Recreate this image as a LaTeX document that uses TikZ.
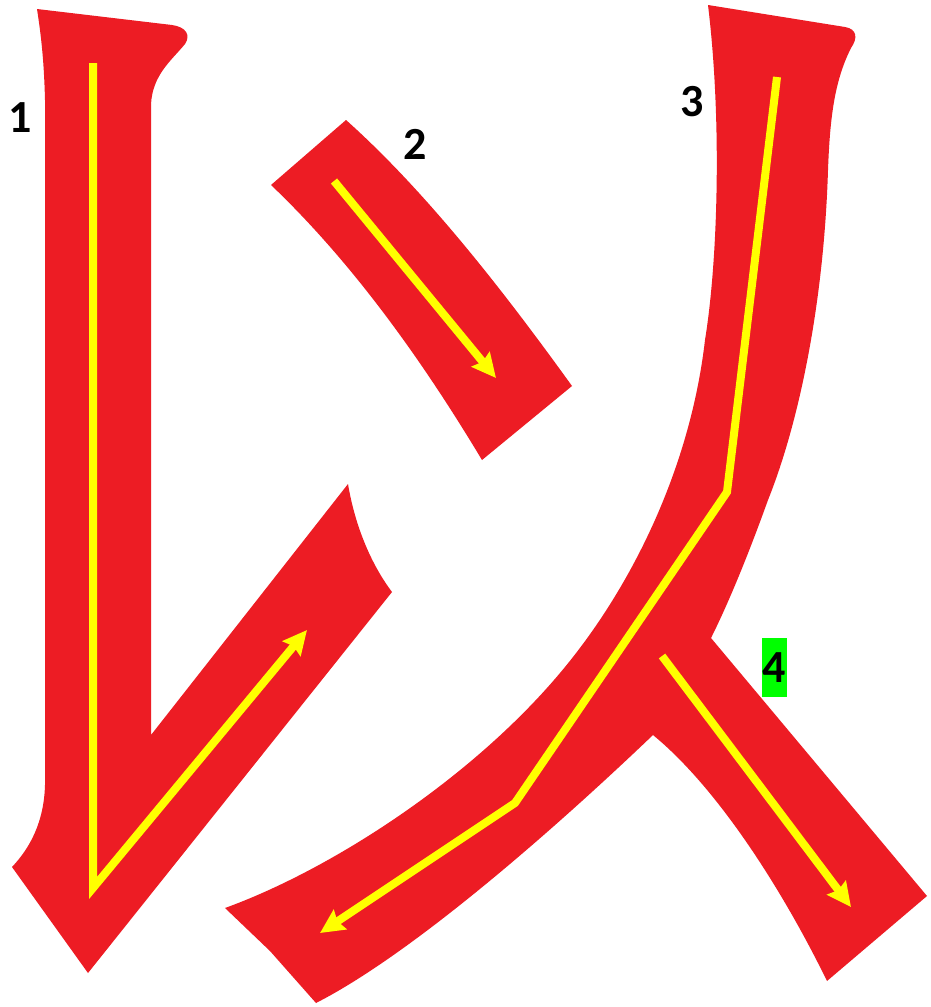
\documentclass[tikz,border=0pt]{standalone}
\usepackage{fontspec}
\setmainfont{Carlito}
\usepackage{tikz}
\usetikzlibrary{calc}
\usetikzlibrary{arrows.meta}
\usetikzlibrary{positioning}
\definecolor{strokered}{HTML}{ED1C24}
\definecolor{guideyellow}{HTML}{FFFF00}
\definecolor{markgreen}{HTML}{00FF00}
\begin{document}
\begin{tikzpicture}[x=1pt,y=-1pt,>={Stealth[length=24pt,width=23pt,inset=3pt]},
	  stroke shape/.style={fill=strokered,draw=none},
	  guide line/.style={->,draw=guideyellow,line width=8pt},
	  order label/.style={font=\fontsize{46}{50}\selectfont\bfseries,inner sep=0pt}]

	  \useasboundingbox[fill=white] (0,0) rectangle (930,1007);

	  % stroke 1
	  \fill[stroke shape] (37,9) -- (172,25) .. controls (186,27) and (191,35) .. (185,44)
	    .. controls (172,60) and (152,75) .. (151,105) -- (151,735) -- (348,484)
	    .. controls (354,520) and (368,560) .. (392,592) -- (88,973) -- (12,867)
	    .. controls (30,848) and (44,822) .. (45,785) -- (45,100)
	    .. controls (44,60) and (41,35) .. cycle;
	  % stroke 2
	  \fill[stroke shape] (346,120) .. controls (430,195) and (510,300) .. (572,386) -- (482,460)
	    .. controls (425,365) and (355,265) .. (271,185) -- cycle;
	  % strokes 3 and 4
	  \fill[stroke shape] (708,5) -- (845,27) .. controls (857,29) and (858,38) .. (851,48)
	    .. controls (835,80) and (830,115) .. (828,170) .. controls (824,300) and (800,420) .. (768,500)
	    .. controls (750,550) and (730,600) .. (711,638) -- (927,896) -- (827,981)
	    .. controls (785,895) and (720,790) .. (653,735) .. controls (563,821) and (416,952) .. (316,1003)
	    -- (270,951) -- (225,908) .. controls (330,870) and (470,780) .. (560,673)
	    .. controls (630,590) and (690,470) .. (705,340) .. controls (718,260) and (722,120) .. cycle;

	  \coordinate (s1_start) at (93,63);
	  \coordinate (s1_turn)  at (93,888);
	  \coordinate (s1_end)   at (307,630);
	  \coordinate (s2_start) at (334,181);
	  \coordinate (s2_end)   at (496,378);
	  \coordinate (s3_start) at (777,77);
	  \coordinate (s3_turn)  at (727,492);
	  \coordinate (s3_bend)  at (515,803);
	  \coordinate (s3_end)   at (320,933);
	  \coordinate (s4_start) at (662,656);
	  \coordinate (s4_end)   at (851,907);

	  \draw[guide line] (s1_start) -- (s1_turn) -- (s1_end);
	  \draw[guide line] (s2_start) -- (s2_end);
	  \draw[guide line] (s3_start) -- (s3_turn) -- (s3_bend) -- (s3_end);
	  \draw[guide line] (s4_start) -- (s4_end);

	  \node[order label] (n_1) at (20,117.5) {1};
	  \node[order label] (n_2) at (415,144) {2};
	  \node[order label] (n_3) at (692,102) {3};
	  \node[order label, fill=markgreen, minimum width=25pt, minimum height=59pt] (n_4) at (774.5,667.5) {4};
	\end{tikzpicture}
\end{document}
